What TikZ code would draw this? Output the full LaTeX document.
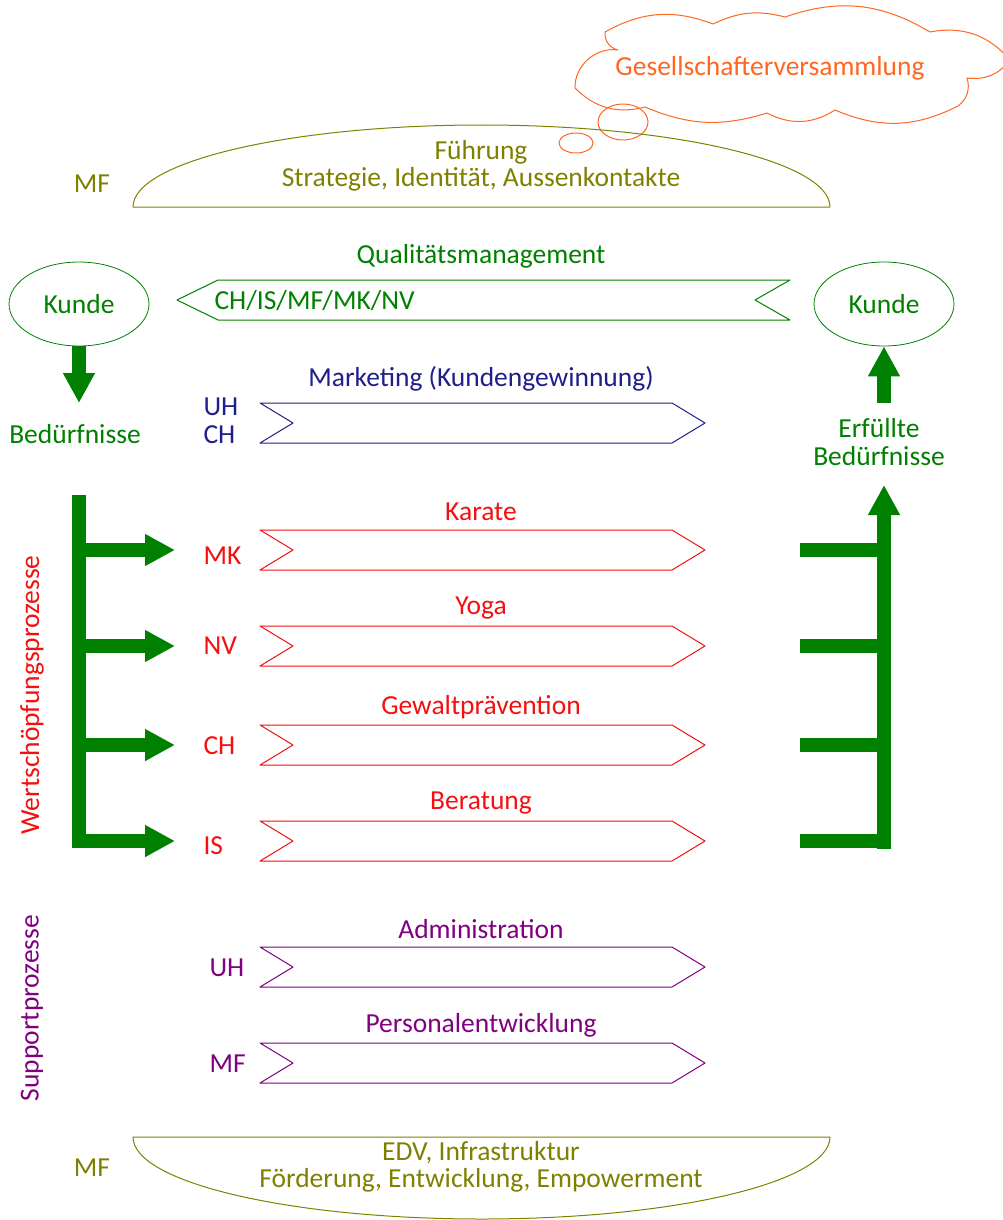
\documentclass[tikz,border=0pt]{standalone}
\usepackage{fontspec}
\setmainfont{Carlito}
\usetikzlibrary{positioning,arrows.meta,shapes.geometric}
\definecolor{gruen}{RGB}{0,128,0}
\definecolor{rot}{RGB}{245,15,15}
\definecolor{oliv}{RGB}{128,128,0}
\definecolor{lila}{RGB}{128,0,128}
\definecolor{blau}{RGB}{30,30,140}
\definecolor{orange}{RGB}{255,102,34}

\begin{document}
\begin{tikzpicture}[x=1pt,y=-1pt,font=\fontsize{27.5}{27.5}\selectfont,line join=round,
  chev/.style={line width=1pt},
  fat/.style={draw=gruen,line width=14pt},
  fatarrow/.style={fat,-{Triangle[width=30pt,length=30pt]}},
  kunde/.style={draw=gruen,ellipse,line width=0.8pt,text=gruen,
    minimum width=140pt,minimum height=84pt}]
  \useasboundingbox (0,0) rectangle (1002,1220);

  % Cloud with thought bubbles
  \draw[orange,line width=1pt] (605,32) to[bend left=25] (713,24) to[bend left=20] (785,17)
    to[bend left=25] (930,32) to[bend left=30] (1010,60) to[bend left=30] (967,78)
    to[bend left=35] (958,106) to[bend left=25] (835,110) to[bend left=30] (767,113)
    to[bend left=20] (645,107) to[bend left=30] (575,88) to[bend left=50] (618,50)
    to[bend left=40] cycle;
  \node[text=orange] (gv) at (770,68) {Gesellschafterversammlung};
  \draw[orange,line width=1pt] (623,122) ellipse[x radius=25,y radius=18];
  \draw[orange,line width=1pt] (576,143) ellipse[x radius=17,y radius=10];

  % Fuehrung
  \draw[oliv,line width=1pt] (133,207) arc[start angle=180,end angle=360,x radius=348.5,y radius=82] -- cycle;
  \node[text=oliv,align=center] (fuehrung) at (481,166) {Führung\\Strategie, Identität, Aussenkontakte};
  \node[text=oliv] (mfoben) at (92,184) {MF};

  % Qualitaetsmanagement
  \node[text=gruen] (qm) at (481,256) {Qualitätsmanagement};
  \draw[gruen,chev] (177,300) -- (218,280) -- (790,280) -- (755,300) -- (790,320) -- (218,320) -- cycle;
  \node[text=gruen,anchor=west] (qmlab) at (211,301) {CH/IS/MF/MK/NV};

  % Kunden
  \node[kunde] (kundeL) at (79,304) {Kunde};
  \node[kunde] (kundeR) at (884,304) {Kunde};
  \node[text=gruen] (bed) at (75,434) {Bedürfnisse};
  \node[text=gruen,align=center] (erf) at (879,442) {Erfüllte\\Bedürfnisse};
  \coordinate (bedtop) at (79,403);
  \coordinate (erftop) at (884,403);
  \draw[fatarrow] (kundeL.south) -- (bedtop);
  \draw[fatarrow] (erftop) -- (kundeR.south);

  % Marketing
  \draw[blau,chev] (260,403) -- (672,403) -- (705,423) -- (672,443) -- (260,443) -- (293,423) -- cycle;
  \node[text=blau] (mark) at (481,379) {Marketing (Kundengewinnung)};
  \node[text=blau,anchor=west,align=left] (uhch) at (200,421) {UH\\CH};

  % Wertschoepfungsprozesse
  \node[text=rot,rotate=90] (ws) at (32,695) {Wertschöpfungsprozesse};
  \draw[fat] (79,495) -- (79,848);
  \coordinate (rtop) at (884,485);
  \draw[fatarrow] (884,849) -- (rtop);
  \foreach \y/\ly/\t/\l/\n in {530/556/Karate/MK/mk, 626/646/Yoga/NV/nv,
      725/746/Gewaltprävention/CH/ch, 821/846/Beratung/IS/is} {
    \draw[rot,chev] (260,\y) -- (672,\y) -- (705,\y+20) -- (672,\y+40)
      -- (260,\y+40) -- (293,\y+20) -- cycle;
    \node[text=rot] (t\n) at (481,\y-18) {\t};
    \node[text=rot,anchor=west] (\n) at (200,\ly) {\l};
    \coordinate (b\n) at (79,\y+20);
    \coordinate (r\n) at (884,\y+20);
    \draw[fatarrow] (b\n) -- ([xshift=-25pt]\n.west |- b\n);
    \draw[fat] ([xshift=-84pt]r\n) -- (r\n);
  }

  % Supportprozesse
  \node[text=lila,rotate=90] (sp) at (32,1008) {Supportprozesse};
  \foreach \y/\t/\l/\n in {947/Administration/UH/adm, 1043/Personalentwicklung/MF/pe} {
    \draw[lila,chev] (260,\y) -- (672,\y) -- (705,\y+20) -- (672,\y+40)
      -- (260,\y+40) -- (293,\y+20) -- cycle;
    \node[text=lila] (t\n) at (481,\y-18) {\t};
    \node[text=lila,anchor=west] (\n) at (206,\y+21) {\l};
  }

  % EDV
  \draw[oliv,line width=1pt] (133,1137) arc[start angle=180,end angle=0,x radius=348.5,y radius=82] -- cycle;
  \node[text=oliv,align=center] (edv) at (481,1167) {EDV, Infrastruktur\\Förderung, Entwicklung, Empowerment};
  \node[text=oliv] (mfunten) at (92,1168) {MF};
\end{tikzpicture}
\end{document}
